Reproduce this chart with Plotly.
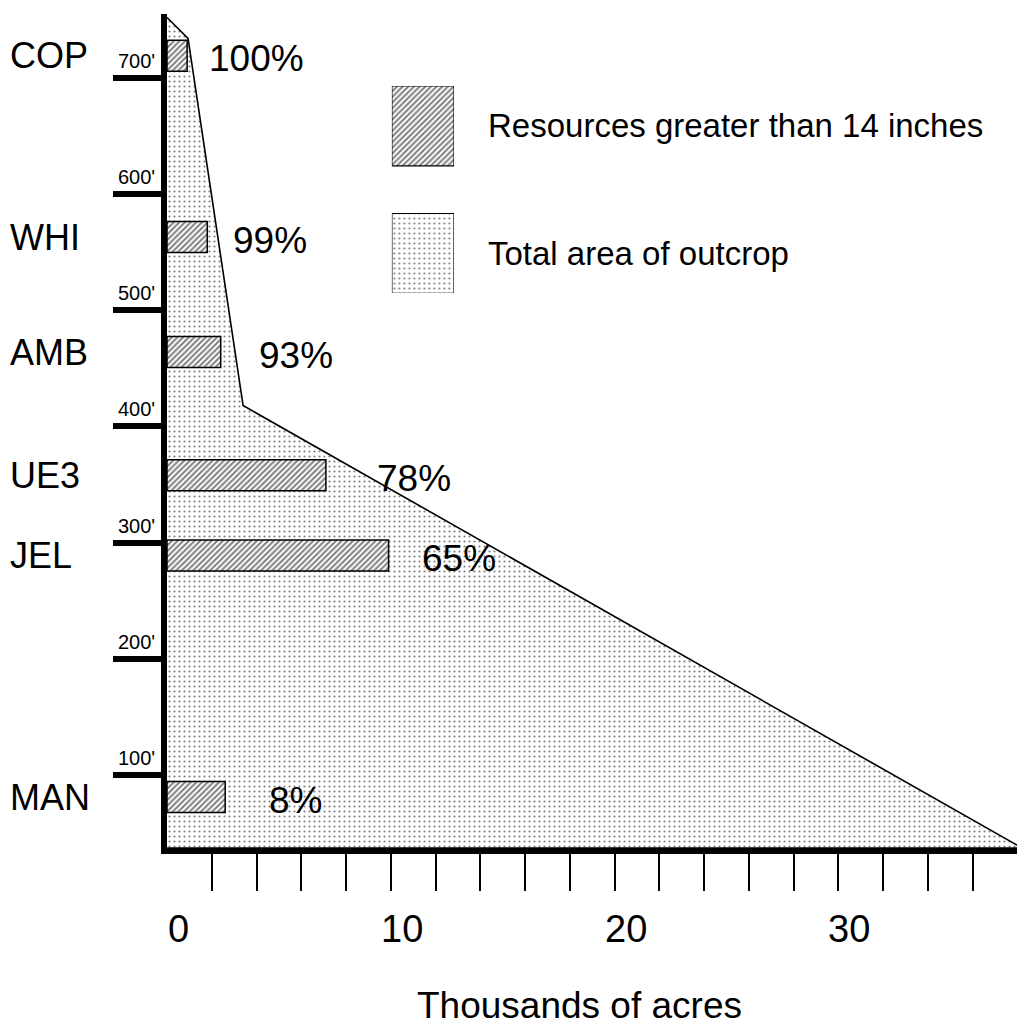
import plotly.graph_objects as go

# ---------------- data ----------------
formations = ["COP", "WHI", "AMB", "UE3", "JEL", "MAN"]
depth_ft = [719, 563, 464, 358, 289, 81]
resources_kacres = [0.9, 1.8, 2.4, 7.1, 9.9, 2.6]
pct_labels = ["100%", "99%", "93%", "78%", "65%", "8%"]

outcrop_x = [0, 0.94, 3.4, 38.2, 0]
outcrop_y = [752, 734, 418, 37.2, 37.2]

y_tick_vals = [100, 200, 300, 400, 500, 600, 700]
y_tick_text = ["100'", "200'", "300'", "400'", "500'", "600'", "700'"]
x_tick_vals = list(range(2, 40, 2))
x_label_vals = [0, 10, 20, 30]
x_label_text = ["0", "10", "20", "30"]

legend_labels = ["Resources greater than 14 inches", "Total area of outcrop"]

# ---------------- style ----------------
FONT = "Liberation Sans, Arial, Helvetica, sans-serif"
X_RANGE = [0, 38.2]
Y_RANGE = [37.2, 755]
dots = dict(shape=".", size=5, solidity=0.15, fgcolor="black", bgcolor="white")
hatch = dict(shape="/", size=4, solidity=0.5, fgcolor="black", bgcolor="white")
pct_xshift = [20, 24, 36, 49, 31, 42]

fig = go.Figure()

# total outcrop area (main subplot, drawn first)
fig.add_trace(go.Scatter(
    x=outcrop_x, y=outcrop_y, mode="lines", fill="toself",
    fillpattern=dots, fillcolor="white",
    line=dict(color="black", width=1.6), showlegend=False, hoverinfo="skip",
))

# resource bars on an overlaying axis pair so they sit above the fill
fig.add_trace(go.Bar(
    x=resources_kacres, y=depth_ft, base=0, orientation="h", width=26.7,
    marker=dict(color="white", pattern=hatch, line=dict(color="black", width=1.5)),
    xaxis="x3", yaxis="y3", showlegend=False,
))

# legend swatches on an auxiliary axis pair
fig.add_trace(go.Bar(
    x=[1, 1], y=[1, 0], base=0, orientation="h", width=0.627,
    marker=dict(color="white",
                pattern=dict(shape=["/", "."], size=[4, 5], solidity=[0.5, 0.15],
                             fgcolor="black", bgcolor="white"),
                line=dict(color="black", width=1.2)),
    xaxis="x2", yaxis="y2", showlegend=False, hoverinfo="skip",
))

annotations = []
for name, y in zip(formations, depth_ft):
    annotations.append(dict(x=-0.186, xref="paper", y=y, yref="y", text=name,
                            xanchor="left", yanchor="middle", showarrow=False,
                            font=dict(family=FONT, size=36, color="black")))
for val, y, t, dx in zip(resources_kacres, depth_ft, pct_labels, pct_xshift):
    annotations.append(dict(x=val, xref="x", y=y, yref="y", text=t, xshift=dx, yshift=-3,
                            xanchor="left", yanchor="middle", showarrow=False,
                            font=dict(family=FONT, size=37, color="black")))
for v, t in zip(y_tick_vals, y_tick_text):
    annotations.append(dict(x=0, xref="paper", y=v, yref="y", text=t, xshift=-10, yshift=4,
                            xanchor="right", yanchor="bottom", showarrow=False,
                            font=dict(family=FONT, size=20, color="black")))
for v, t in zip(x_label_vals, x_label_text):
    annotations.append(dict(x=v, xref="x", y=0, yref="paper", text=t, xshift=11, yshift=-81,
                            xanchor="center", yanchor="middle", showarrow=False,
                            font=dict(family=FONT, size=38, color="black")))
annotations.append(dict(x=0.483, xref="paper", y=-0.2158, yref="paper",
                        text="Thousands of acres", xanchor="center", yanchor="bottom",
                        showarrow=False, font=dict(family=FONT, size=37, color="black")))
for yv, t in zip([1, 0], legend_labels):
    annotations.append(dict(x=1, xref="x2", y=yv, yref="y2", text=t, xshift=32,
                            xanchor="left", yanchor="middle", showarrow=False,
                            font=dict(family=FONT, size=33, color="black")))

fig.update_layout(
    width=1017, height=1020,
    margin=dict(l=159, r=3, t=6, b=180),
    paper_bgcolor="white", plot_bgcolor="white",
    font=dict(family=FONT, color="black"),
    showlegend=False,
    barmode="overlay",
    xaxis=dict(range=X_RANGE, showgrid=False, zeroline=False,
               showline=True, linecolor="black", linewidth=6,
               tickmode="array", tickvals=x_tick_vals, ticks="outside",
               ticklen=37, tickwidth=1.5, tickcolor="black", showticklabels=False),
    yaxis=dict(range=Y_RANGE, showgrid=False, zeroline=False,
               showline=True, linecolor="black", linewidth=6,
               tickmode="array", tickvals=y_tick_vals, ticks="outside",
               ticklen=48, tickwidth=6, tickcolor="black", showticklabels=False),
    xaxis3=dict(range=X_RANGE, overlaying="x", anchor="y3", visible=False),
    yaxis3=dict(range=Y_RANGE, overlaying="y", anchor="x3", visible=False),
    xaxis2=dict(domain=[0.263, 0.3357], range=[0, 1], visible=False, anchor="y2"),
    yaxis2=dict(domain=[0.6655, 0.9137], range=[-0.31, 1.3137], visible=False, anchor="x2"),
    annotations=annotations,
)

fig.write_html("out.html")
